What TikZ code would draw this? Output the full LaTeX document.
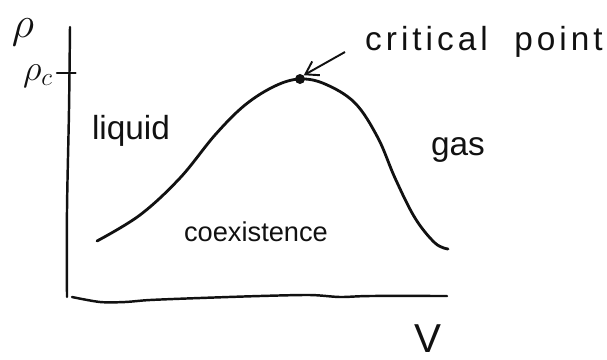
\documentclass[tikz,border=0pt]{standalone}
\usepackage{fontspec}
\setsansfont{Liberation Sans}
\usetikzlibrary{positioning, arrows.meta}
\definecolor{clrink}{HTML}{111111}

\begin{document}
\begin{tikzpicture}[
    x=0.02cm, y=-0.02cm,
    >={Straight Barb[length=7pt, width=9pt]},
    every node/.style={font=\sffamily, text=clrink},
    axisline/.style={draw=clrink, line width=1.4pt, line cap=round},
    curveline/.style={draw=clrink, line width=1.6pt, line cap=round},
    arrow/.style={->, draw=clrink, line width=1.1pt},
    label/.style={font=\sffamily\fontsize{19}{22}\selectfont, text=clrink},
    axislabel/.style={font=\fontsize{26}{30}\selectfont, text=clrink},
]
\useasboundingbox (0,0) rectangle (607,359);
% axes
\coordinate (n_ytop) at (70,27);
\coordinate (n_origin) at (67,297);
\coordinate (n_xend) at (447,296);
\draw[axisline] plot[smooth] coordinates {(n_ytop) (69,110) (67,210) (n_origin)};
\draw[axisline] plot[smooth] coordinates {(72,297) (100,302) (125,302) (150,300) (200,298) (260,296) (310,295) (340,297) (370,296) (n_xend)};
\node[axislabel] (n_rho) at (23,32) {$\rho$};
\node[axislabel, font=\sffamily\fontsize{23}{26}\selectfont, inner sep=0pt] (n_v) at (428,339) {V};
% tick at rho_c
\coordinate (n_tick) at (68,73);
\draw[axisline] ([xshift=-0.22cm]n_tick) -- ([xshift=0.15cm]n_tick);
\node[axislabel, font=\fontsize{22}{26}\selectfont] (n_rhoc) at (38,76) {$\rho_c$};
% coexistence curve
\node[circle, fill=clrink, inner sep=0pt, minimum size=0.2cm] (n_peak) at (300,79) {};
\draw[curveline] plot[smooth, tension=0.6] coordinates {(97,241) (140,215) (180,178) (215,135) (245,105) (275,86) (n_peak.center) (325,84) (355,103) (378,138) (395,178) (415,218) (435,243) (448,249)};
% labels
\node[label, font=\sffamily\fontsize{19}{22}\selectfont\addfontfeature{LetterSpace=12}] (n_crit) at (484,42) {critical \ point};
\coordinate[below left=0.2cm and 0.28cm of n_crit.west] (n_crit_tail);
\draw[arrow] (n_crit_tail) -- (n_peak.north east);
\node[label] (n_liquid) at (131,131) {liquid};
\node[label] (n_gas) at (458,150) {gas};
\node[label, font=\sffamily\fontsize{15.5}{18}\selectfont] (n_coex) at (256,232) {coexistence};
\end{tikzpicture}
\end{document}
